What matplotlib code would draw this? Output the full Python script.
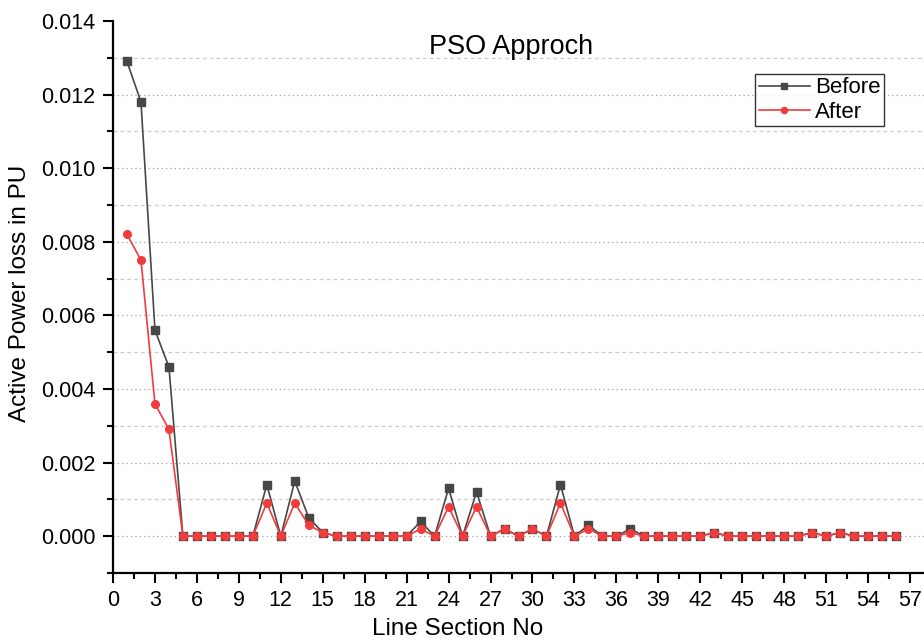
import matplotlib
matplotlib.use("Agg")
import matplotlib.pyplot as plt
from matplotlib.ticker import MultipleLocator, FormatStrFormatter
import numpy as np

plt.rcParams['font.family'] = ['Liberation Sans', 'DejaVu Sans']

# line sections 1..56
sections = list(range(1, 57))

before = [0.0129, 0.0118, 0.0056, 0.0046, 0, 0, 0, 0, 0, 0,
          0.0014, 0, 0.0015, 0.0005, 0.0001, 0, 0, 0, 0, 0,
          0, 0.0004, 0, 0.0013, 0, 0.0012, 0, 0.0002, 0, 0.0002,
          0, 0.0014, 0, 0.0003, 0, 0, 0.0002, 0, 0, 0,
          0, 0, 0.0001, 0, 0, 0, 0, 0, 0, 0.0001,
          0, 0.0001, 0, 0, 0, 0]

after = [0.0082, 0.0075, 0.0036, 0.0029, 0, 0, 0, 0, 0, 0,
         0.0009, 0, 0.0009, 0.0003, 0.0001, 0, 0, 0, 0, 0,
         0, 0.0002, 0, 0.0008, 0, 0.0008, 0, 0.0002, 0, 0.0002,
         0, 0.0009, 0, 0.0002, 0, 0, 0.0001, 0, 0, 0,
         0, 0, 0.0001, 0, 0, 0, 0, 0, 0, 0.0001,
         0, 0.0001, 0, 0, 0, 0]

fig = plt.figure(figsize=(9.24, 6.44), dpi=100)
ax = fig.add_axes([113/924, 1-573/644, (924-113)/924, (573-21)/644])

ax.plot(sections, before, color='#474747', lw=1.2, marker='s', ms=5.5,
        label='Before', zorder=3)
ax.plot(sections, after, color='#f03c3c', lw=1.2, marker='o', ms=5.5,
        label='After', zorder=4)

ax.set_xlim(0, 58.0)
ax.set_ylim(-0.001, 0.014)

ax.xaxis.set_major_locator(MultipleLocator(3))
ax.xaxis.set_minor_locator(MultipleLocator(1.5))
ax.yaxis.set_major_locator(MultipleLocator(0.002))
ax.yaxis.set_minor_locator(MultipleLocator(0.001))
ax.yaxis.set_major_formatter(FormatStrFormatter('%.3f'))

# horizontal grid only: dotted on major, dashed on minor
for y in np.arange(0.0, 0.0135, 0.002):
    ax.axhline(y, color='#a0a0a0', lw=0.9, ls=(0, (1, 2.5)), zorder=1)
for y in np.arange(0.001, 0.0135, 0.002):
    ax.axhline(y, color='#cccccc', lw=0.9, ls=(0, (3, 2.5)), zorder=1)

ax.spines['top'].set_visible(False)
ax.spines['right'].set_visible(False)
for s in ['left', 'bottom']:
    ax.spines[s].set_linewidth(1.6)

ax.tick_params(which='major', direction='out', length=7, width=1.5, labelsize=15.5)
ax.tick_params(which='minor', direction='out', length=4, width=1.5)
ax.tick_params(axis='y', pad=5.5)
ax.tick_params(axis='x', pad=5)

ax.set_xlabel('Line Section No', fontsize=17.5, va='center')
ax.set_ylabel('Active Power loss in PU', fontsize=17.5, va='center')
ax.xaxis.set_label_coords((458-113)/811, (573-629)/552)
ax.yaxis.set_label_coords((20-113)/811, (573-293.5)/552)

fig.text(511/924, 1-47/644, 'PSO Approch', fontsize=19.5, ha='center', va='center')

leg = ax.legend(loc='upper right', bbox_to_anchor=(884/924, 1-74/644),
                bbox_transform=fig.transFigure, fontsize=16, frameon=True,
                fancybox=False, borderpad=0.15, handlelength=2.3,
                handletextpad=0.25, labelspacing=0.15, markerscale=0.8,
                borderaxespad=0)
leg.get_frame().set_edgecolor('black')
leg.get_frame().set_linewidth(1.0)

fig.savefig('out.png', dpi=100)
